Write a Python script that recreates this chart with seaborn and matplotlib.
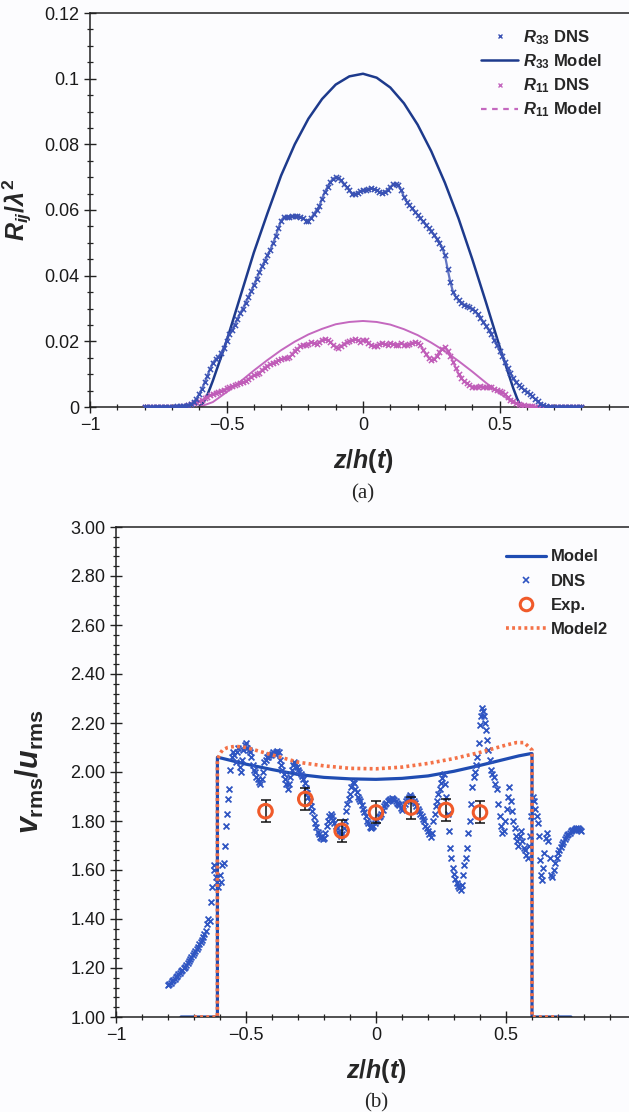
import numpy as np
import pandas as pd
import matplotlib
matplotlib.use("Agg")
import matplotlib.pyplot as plt
from matplotlib.lines import Line2D
from matplotlib.ticker import MultipleLocator, FuncFormatter
import seaborn as sns

# ---------------- data: panel (a) ----------------
z_dns_a = np.round(np.linspace(-0.80, 0.80, 161), 2)
r33_dns = [0, 0, 0, 0, 0, 0, 0, 0, 0, 0, 0.0001, 0.0001, 0.0002, 0.0002, 0.0003,
           0.0004, 0.0006, 0.0010, 0.0015, 0.0025, 0.0040, 0.0055, 0.0075, 0.0095, 0.0117,
           0.0135, 0.0145, 0.0152, 0.0165, 0.0180, 0.0202, 0.0222, 0.0235, 0.0250, 0.0268,
           0.0285, 0.0300, 0.0318, 0.0335, 0.0352, 0.0372, 0.0390, 0.0410, 0.0428, 0.0445,
           0.0462, 0.0478, 0.0498, 0.0520, 0.0545, 0.0568, 0.0578, 0.0580, 0.0580, 0.0581,
           0.0582, 0.0581, 0.0580, 0.0575, 0.0568, 0.0568, 0.0575, 0.0588, 0.0600, 0.0612,
           0.0635, 0.0655, 0.0670, 0.0685, 0.0695, 0.0700, 0.0698, 0.0690, 0.0678, 0.0670,
           0.0660, 0.0650, 0.0648, 0.0652, 0.0658, 0.0660, 0.0662, 0.0664, 0.0666, 0.0664,
           0.0660, 0.0655, 0.0652, 0.0655, 0.0662, 0.0670, 0.0678, 0.0680, 0.0675, 0.0660,
           0.0640, 0.0625, 0.0615, 0.0605, 0.0595, 0.0585, 0.0575, 0.0565, 0.0555, 0.0545,
           0.0535, 0.0525, 0.0512, 0.0500, 0.0485, 0.0462, 0.0420, 0.0380, 0.0350, 0.0335,
           0.0325, 0.0318, 0.0312, 0.0308, 0.0305, 0.0300, 0.0292, 0.0282, 0.0272, 0.0260,
           0.0248, 0.0235, 0.0222, 0.0205, 0.0188, 0.0172, 0.0155, 0.0137, 0.0120, 0.0103,
           0.0088, 0.0076, 0.0067, 0.0060, 0.0053, 0.0047, 0.0040, 0.0032, 0.0025, 0.0017,
           0.0010, 0.0006, 0.0003, 0.0001, 0, 0, 0, 0, 0, 0,
           0, 0, 0, 0, 0, 0]
r11_dns = [0, 0, 0, 0, 0, 0, 0, 0, 0, 0, 0, 0, 0.0001, 0.0001, 0.0002,
           0.0004, 0.0006, 0.0009, 0.0012, 0.0014, 0.0017, 0.0021, 0.0026, 0.0031, 0.0036,
           0.0040, 0.0044, 0.0047, 0.0050, 0.0053, 0.0057, 0.0060, 0.0063, 0.0066, 0.0069,
           0.0072, 0.0075, 0.0078, 0.0085, 0.0092, 0.0097, 0.0100, 0.0105, 0.0112, 0.0120,
           0.0126, 0.0130, 0.0135, 0.0138, 0.0142, 0.0146, 0.0148, 0.0149, 0.0152, 0.0160,
           0.0172, 0.0178, 0.0185, 0.0190, 0.0188, 0.0192, 0.0198, 0.0195, 0.0192, 0.0198,
           0.0205, 0.0208, 0.0205, 0.0198, 0.0190, 0.0183, 0.0180, 0.0185, 0.0192, 0.0198,
           0.0200, 0.0204, 0.0207, 0.0204, 0.0198, 0.0205, 0.0203, 0.0195, 0.0188, 0.0185,
           0.0187, 0.0192, 0.0196, 0.0192, 0.0190, 0.0195, 0.0192, 0.0188, 0.0190, 0.0195,
           0.0190, 0.0188, 0.0192, 0.0195, 0.0198, 0.0196, 0.0188, 0.0175, 0.0162, 0.0150,
           0.0143, 0.0145, 0.0155, 0.0168, 0.0178, 0.0182, 0.0172, 0.0155, 0.0138, 0.0118,
           0.0100, 0.0088, 0.0078, 0.0072, 0.0066, 0.0062, 0.0060, 0.0062, 0.0063, 0.0061,
           0.0060, 0.0061, 0.0060, 0.0055, 0.0052, 0.0050, 0.0045, 0.0040, 0.0030, 0.0022,
           0.0017, 0.0012, 0.0009, 0.0007, 0.0005, 0.0004, 0.0003, 0.0002, 0.0001, 0,
           0, 0, 0, 0, 0, 0, 0, 0, 0, 0, 0, 0, 0, 0, 0, 0]

z_r33_model = [-0.60, -0.59, -0.58, -0.57, -0.56, -0.55, -0.50, -0.45, -0.40, -0.35, -0.30,
               -0.25, -0.20, -0.15, -0.10, -0.05, 0.00, 0.05, 0.10, 0.15, 0.20, 0.25,
               0.30, 0.35, 0.40, 0.45, 0.50, 0.55, 0.565, 0.58]
r33_model = [0.0, 0.0008, 0.0020, 0.0037, 0.0058, 0.0080, 0.0200, 0.0335, 0.0470, 0.0590,
             0.0705, 0.0800, 0.0878, 0.0938, 0.0982, 0.1007, 0.1015, 0.1003, 0.0973, 0.0925,
             0.0860, 0.0779, 0.0683, 0.0574, 0.0451, 0.0320, 0.0185, 0.0058, 0.0025, 0.0]

z_r11_model = [-0.60, -0.55, -0.50, -0.45, -0.40, -0.35, -0.30, -0.25, -0.20, -0.15, -0.10,
               -0.05, 0.00, 0.05, 0.10, 0.15, 0.20, 0.25, 0.30, 0.35, 0.40, 0.45, 0.50,
               0.55, 0.59]
r11_model = [0.0, 0.0015, 0.0045, 0.0077, 0.0111, 0.0143, 0.0173, 0.0199, 0.0221, 0.0238,
             0.0252, 0.0259, 0.0262, 0.0259, 0.0251, 0.0237, 0.0219, 0.0196, 0.0170, 0.0140,
             0.0108, 0.0074, 0.0042, 0.0013, 0.0]

# ---------------- data: panel (b) ----------------
z_model_b = [-0.75, -0.61, -0.61, -0.60, -0.55, -0.50, -0.40, -0.30, -0.20, -0.10, 0.00,
             0.10, 0.20, 0.30, 0.40, 0.50, 0.55, 0.595, 0.60, 0.60, 0.75]
v_model_b = [1.0, 1.0, 2.06, 2.058, 2.045, 2.032, 2.010, 1.990, 1.978, 1.972, 1.970,
             1.974, 1.984, 2.003, 2.027, 2.053, 2.066, 2.075, 2.075, 1.0, 1.0]

z_model2_b = [-0.70, -0.61, -0.61, -0.60, -0.59, -0.57, -0.54, -0.50, -0.45, -0.40, -0.35,
              -0.30, -0.20, -0.10, 0.00, 0.10, 0.20, 0.30, 0.40, 0.50, 0.54, 0.57, 0.59,
              0.60, 0.60, 0.70]
v_model2_b = [1.0, 1.0, 2.05, 2.075, 2.09, 2.10, 2.105, 2.10, 2.085, 2.07, 2.055,
              2.04, 2.025, 2.015, 2.013, 2.02, 2.035, 2.055, 2.08, 2.11, 2.12, 2.12, 2.10,
              2.09, 1.0, 1.0]

z_exp = [-0.425, -0.272, -0.132, 0.0, 0.135, 0.269, 0.40]
v_exp = [1.84, 1.89, 1.76, 1.835, 1.855, 1.845, 1.835]
err_exp = [0.045, 0.045, 0.045, 0.045, 0.045, 0.045, 0.045]

z_dns_b = [-0.800, -0.795, -0.790, -0.785, -0.780, -0.775, -0.770, -0.765, -0.760, -0.755,
           -0.750, -0.745, -0.740, -0.735, -0.730, -0.725, -0.720, -0.715, -0.710, -0.705,
           -0.700, -0.695, -0.690, -0.685, -0.680, -0.675, -0.670, -0.665, -0.660, -0.655,
           -0.650, -0.645, -0.640, -0.635, -0.630, -0.625, -0.622, -0.615, -0.610, -0.606,
           -0.600, -0.597, -0.592, -0.586, -0.582, -0.578, -0.574, -0.570, -0.566, -0.562,
           -0.555, -0.550, -0.545, -0.540, -0.535, -0.530, -0.525, -0.520, -0.515, -0.510,
           -0.505, -0.500, -0.495, -0.490, -0.485, -0.480, -0.475, -0.470, -0.465, -0.460,
           -0.455, -0.450, -0.445, -0.440, -0.435, -0.430, -0.425, -0.420, -0.415, -0.410,
           -0.405, -0.400, -0.395, -0.390, -0.385, -0.380, -0.375, -0.370, -0.365, -0.360,
           -0.355, -0.350, -0.345, -0.340, -0.335, -0.330, -0.325, -0.320, -0.315, -0.310,
           -0.305, -0.300, -0.295, -0.290, -0.285, -0.280, -0.275, -0.270, -0.265, -0.260,
           -0.255, -0.250, -0.245, -0.240, -0.235, -0.230, -0.225, -0.220, -0.215, -0.210,
           -0.205, -0.200, -0.195, -0.190, -0.185, -0.180, -0.175, -0.170, -0.165, -0.160,
           -0.155, -0.150, -0.145, -0.140, -0.135, -0.130, -0.125, -0.120, -0.115, -0.110,
           -0.105, -0.100, -0.095, -0.090, -0.085, -0.080, -0.075, -0.070, -0.065, -0.060,
           -0.055, -0.050, -0.045, -0.040, -0.035, -0.030, -0.025, -0.020, -0.015, -0.010,
           -0.005, 0.000, 0.005, 0.010, 0.015, 0.020, 0.025, 0.030, 0.035, 0.040,
           0.045, 0.050, 0.055, 0.060, 0.065, 0.070, 0.075, 0.080, 0.085, 0.090,
           0.095, 0.100, 0.105, 0.110, 0.115, 0.120, 0.125, 0.130, 0.135, 0.140,
           0.145, 0.150, 0.155, 0.160, 0.165, 0.170, 0.175, 0.180, 0.185, 0.190,
           0.195, 0.200, 0.205, 0.210, 0.215, 0.220, 0.225, 0.230, 0.235, 0.240,
           0.245, 0.250, 0.255, 0.260, 0.265, 0.270, 0.275, 0.280, 0.285, 0.290,
           0.295, 0.300, 0.305, 0.310, 0.315, 0.320, 0.325, 0.330, 0.335, 0.340,
           0.345, 0.350, 0.355, 0.360, 0.365, 0.370, 0.375, 0.380, 0.385, 0.390,
           0.395, 0.400, 0.403, 0.406, 0.410, 0.415, 0.420, 0.424, 0.428, 0.432,
           0.437, 0.442, 0.447, 0.452, 0.458, 0.464, 0.470, 0.475, 0.480, 0.486,
           0.492, 0.498, 0.503, 0.508, 0.513, 0.518, 0.523, 0.528, 0.533, 0.538,
           0.543, 0.548, 0.553, 0.558, 0.563, 0.568, 0.573, 0.578, 0.583, 0.588,
           0.593, 0.598, 0.603, 0.608, 0.613, 0.618, 0.622, 0.626, 0.630, 0.634,
           0.638, 0.643, 0.648, 0.653, 0.658, 0.663, 0.668, 0.673, 0.678, 0.683,
           0.690, 0.695, 0.700, 0.705, 0.710, 0.715, 0.720, 0.725, 0.730, 0.735,
           0.740, 0.745, 0.750, 0.755, 0.760, 0.765, 0.770, 0.775, 0.780, 0.785,
           0.790]
v_dns_b = [1.130, 1.135, 1.140, 1.146, 1.152, 1.157, 1.163, 1.169, 1.175, 1.181,
           1.187, 1.193, 1.199, 1.206, 1.213, 1.220, 1.228, 1.236, 1.244, 1.252,
           1.260, 1.269, 1.278, 1.287, 1.296, 1.306, 1.316, 1.327, 1.338, 1.350,
           1.38, 1.40, 1.39, 1.47, 1.53, 1.60, 1.62, 1.57, 1.55, 1.53,
           1.58, 1.55, 1.62, 1.63, 1.70, 1.78, 1.83, 1.89, 1.93, 2.01,
           2.06, 2.08, 2.07, 2.04, 2.08, 2.10, 2.02, 2.00, 2.05, 2.09,
           2.11, 2.12, 2.10, 2.09, 2.08, 2.06, 2.03, 2.01, 2.00, 1.98,
           1.97, 1.96, 1.95, 1.97, 2.00, 2.04, 2.05, 2.06, 2.06, 2.07,
           2.07, 2.075, 2.08, 2.075, 2.08, 2.085, 2.08, 2.05, 2.03, 2.01,
           1.99, 1.97, 1.95, 1.93, 1.95, 1.98, 2.01, 2.03, 2.04, 2.035,
           2.02, 2.01, 2.00, 1.99, 1.985, 1.97, 1.955, 1.935, 1.915, 1.90,
           1.88, 1.86, 1.84, 1.815, 1.79, 1.775, 1.755, 1.745, 1.735, 1.73,
           1.725, 1.73, 1.75, 1.78, 1.80, 1.82, 1.83, 1.82, 1.805, 1.79,
           1.78, 1.77, 1.755, 1.745, 1.74, 1.745, 1.77, 1.80, 1.84, 1.87,
           1.89, 1.91, 1.94, 1.96, 1.955, 1.93, 1.92, 1.90, 1.89, 1.88,
           1.865, 1.85, 1.835, 1.82, 1.80, 1.79, 1.775, 1.77, 1.775, 1.78,
           1.79, 1.80, 1.805, 1.815, 1.82, 1.83, 1.845, 1.86, 1.87, 1.875,
           1.88, 1.885, 1.89, 1.895, 1.89, 1.885, 1.88, 1.875, 1.87, 1.865,
           1.855, 1.845, 1.86, 1.87, 1.88, 1.89, 1.90, 1.905, 1.90, 1.89,
           1.88, 1.875, 1.86, 1.85, 1.84, 1.83, 1.82, 1.81, 1.80, 1.78,
           1.77, 1.76, 1.745, 1.735, 1.75, 1.80, 1.83, 1.86, 1.88, 1.91,
           1.93, 1.955, 1.975, 1.99, 1.95, 1.90, 1.83, 1.76, 1.69, 1.65,
           1.61, 1.585, 1.565, 1.545, 1.535, 1.525, 1.52, 1.54, 1.58, 1.62,
           1.65, 1.69, 1.75, 1.80, 1.87, 1.94, 1.98, 2.00, 2.03, 2.06,
           2.12, 2.19, 2.23, 2.26, 2.25, 2.23, 2.20, 2.17, 2.13, 2.09,
           2.05, 2.01, 1.99, 1.98, 1.95, 1.93, 1.87, 1.82, 1.78, 1.75,
           1.76, 1.80, 1.85, 1.90, 1.94, 1.88, 1.84, 1.80, 1.77, 1.74,
           1.72, 1.70, 1.74, 1.76, 1.72, 1.69, 1.68, 1.66, 1.65, 1.70,
           1.74, 1.82, 1.90, 1.88, 1.85, 1.82, 1.79, 1.74, 1.64, 1.58,
           1.56, 1.61, 1.67, 1.73, 1.75, 1.72, 1.65, 1.58, 1.57, 1.60,
           1.63, 1.65, 1.67, 1.68, 1.695, 1.705, 1.715, 1.725, 1.735, 1.742,
           1.748, 1.753, 1.758, 1.762, 1.765, 1.768, 1.770, 1.770, 1.768, 1.765,
           1.760]

xtick_vals = [-1, -0.5, 0, 0.5, 1]

# ---------------- style ----------------
sns.set_theme(style="ticks")
plt.rcParams["font.family"] = ["Liberation Sans", "DejaVu Sans"]
plt.rcParams["mathtext.fontset"] = "custom"
plt.rcParams["mathtext.it"] = "Liberation Sans:italic:bold"
plt.rcParams["mathtext.rm"] = "Liberation Sans:bold"
plt.rcParams["mathtext.bf"] = "Liberation Sans:bold"
plt.rcParams["mathtext.sf"] = "Liberation Sans:bold"

BG = "#fcfcfe"
C_R33_M = "#1d3a8c"
C_R33_D = "#3a52b4"
C_R11 = "#c468bf"
C_R11_D = "#c05cb8"
C_MODEL = "#1f4cb2"
C_DNS = "#2f55c2"
C_EXP = "#f05a2a"
C_MODEL2 = "#f47248"
AXC = "#222222"

fig = plt.figure(figsize=(6.29, 11.12), dpi=100, facecolor=BG)
W, H = 629.0, 1112.0


def axes_px(left, top, right, bottom):
    return fig.add_axes([left / W, 1 - bottom / H, (right - left) / W, (bottom - top) / H])


def fmt_x(v, pos):
    if abs(v - 1) < 1e-9:
        return ""
    s = "%g" % v
    return s.replace("-", "\u2212")


def style_axes(ax):
    ax.set_facecolor(BG)
    for sp in ax.spines.values():
        sp.set_color(AXC)
        sp.set_linewidth(1.1)
    ax.tick_params(which="major", direction="inout", length=9, width=1.0, color=AXC,
                   labelsize=13, labelcolor="#1a1a1a", pad=3)
    ax.tick_params(which="minor", direction="inout", length=5, width=0.9, color=AXC)
    ax.tick_params(top=False, right=False, which="both")
    ax.set_xlim(-1, 1)
    ax.xaxis.set_major_locator(plt.FixedLocator(xtick_vals))
    ax.xaxis.set_minor_locator(MultipleLocator(0.1))
    ax.xaxis.set_major_formatter(FuncFormatter(fmt_x))
    ax.set_xlabel("")
    ax.set_ylabel("")


# ---------------- panel (a) ----------------
axa = axes_px(90, 13, 636, 407)
style_axes(axa)
axa.set_ylim(0, 0.12)
axa.yaxis.set_major_locator(MultipleLocator(0.02))
axa.yaxis.set_minor_locator(MultipleLocator(0.005))
axa.yaxis.set_major_formatter(FuncFormatter(lambda v, p: "%g" % round(v, 3)))

sns.lineplot(x=z_r33_model, y=r33_model, ax=axa, color=C_R33_M, lw=1.8,
             estimator=None, sort=False)
sns.lineplot(x=z_r11_model, y=r11_model, ax=axa, color=C_R11, lw=1.4,
             estimator=None, sort=False)
# DNS: dense crosses along a thin trace
sns.lineplot(x=z_dns_a, y=r11_dns, ax=axa, color=C_R11_D, lw=1.6, alpha=0.8,
             estimator=None, sort=False, zorder=3)
sns.scatterplot(x=z_dns_a, y=r11_dns, ax=axa, marker="x", s=14, color=C_R11_D,
                linewidth=1.1, zorder=3)
sns.lineplot(x=z_dns_a, y=r33_dns, ax=axa, color=C_R33_D, lw=1.6, alpha=0.8,
             estimator=None, sort=False, zorder=3)
sns.scatterplot(x=z_dns_a, y=r33_dns, ax=axa, marker="x", s=14, color=C_R33_D,
                linewidth=1.1, zorder=3)

handles_a = [
    Line2D([], [], ls="", marker="x", ms=3.5, mew=1.0, color=C_R33_D),
    Line2D([], [], ls="-", lw=1.8, color=C_R33_M),
    Line2D([], [], ls="", marker="x", ms=3.5, mew=1.0, color=C_R11),
    Line2D([], [], ls=(0, (2.5, 2.5)), lw=1.6, color=C_R11),
]
labels_a = [r"$R_{33}$ DNS", r"$R_{33}$ Model", r"$R_{11}$ DNS", r"$R_{11}$ Model"]
axa.legend(handles_a, labels_a, loc="upper right", bbox_to_anchor=(0.965, 1.0),
           frameon=False, handlelength=2.2, handletextpad=0.3, labelspacing=0.33,
           prop={"weight": "bold", "size": 12})

fig.text(17 / W, 1 - 210 / H, r"$R_{ij}/\lambda^2$", rotation=90, ha="center",
         va="center", fontsize=18)
fig.text(363 / W, 1 - 461 / H, r"$z/h(t)$", ha="center", va="center", fontsize=18)
fig.text(363 / W, 1 - 494 / H, "(a)", ha="center", va="center", fontsize=15,
         family="Liberation Serif")

# ---------------- panel (b) ----------------
axb = axes_px(116, 527, 636, 1017)
style_axes(axb)
axb.set_ylim(1.0, 3.0)
axb.yaxis.set_major_locator(MultipleLocator(0.2))
axb.yaxis.set_minor_locator(MultipleLocator(0.04))
axb.yaxis.set_major_formatter(FuncFormatter(lambda v, p: "%.2f" % v))

sns.lineplot(x=z_model_b, y=v_model_b, ax=axb, color=C_MODEL, lw=2.3,
             estimator=None, sort=False, zorder=2)
sns.scatterplot(x=z_dns_b, y=v_dns_b, ax=axb, marker="x", s=18, color=C_DNS,
                linewidth=1.3, zorder=3)
sns.lineplot(x=z_model2_b, y=v_model2_b, ax=axb, color=C_MODEL2, lw=2.6,
             ls=(0, (0.8, 0.9)), estimator=None, sort=False, zorder=4)
axb.errorbar(z_exp, v_exp, yerr=err_exp, fmt="none", ecolor="#111111", elinewidth=1.1,
             capsize=3.5, capthick=1.1, zorder=5)
sns.scatterplot(x=z_exp, y=v_exp, ax=axb, marker="o", s=95, facecolor="none",
                edgecolor=C_EXP, linewidth=2.2, zorder=6)

handles_b = [
    Line2D([], [], ls="-", lw=2.3, color=C_MODEL),
    Line2D([], [], ls="", marker="x", ms=4, mew=1.2, color=C_DNS),
    Line2D([], [], ls="", marker="o", ms=9, mew=2.2, mfc="none", mec=C_EXP),
    Line2D([], [], ls=(0, (0.8, 0.9)), lw=2.6, color=C_MODEL2),
]
labels_b = ["Model", "DNS", "Exp.", "Model2"]
axb.legend(handles_b, labels_b, loc="upper right", bbox_to_anchor=(0.975, 0.985),
           frameon=False, handlelength=2.4, handletextpad=0.3, labelspacing=0.55,
           prop={"weight": "bold", "size": 12})

fig.text(30 / W, 1 - 772 / H, r"$v_{\mathbf{rms}}/u_{\mathbf{rms}}$", rotation=90,
         ha="center", va="center", fontsize=22)
fig.text(376 / W, 1 - 1071 / H, r"$z/h(t)$", ha="center", va="center", fontsize=18)
fig.text(376 / W, 1 - 1103 / H, "(b)", ha="center", va="center", fontsize=15,
         family="Liberation Serif")

fig.savefig("out.png", dpi=100, facecolor=BG)
